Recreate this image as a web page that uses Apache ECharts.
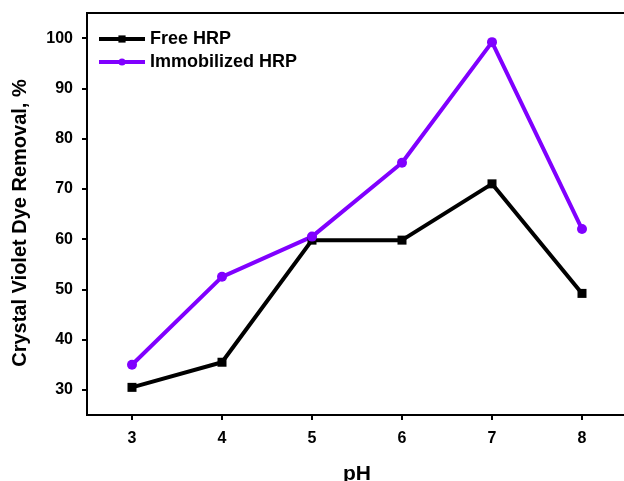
<!DOCTYPE html>
<html>
<head>
<meta charset="utf-8">
<script src="https://cdn.jsdelivr.net/npm/echarts@6/dist/echarts.min.js"></script>
<style>
html, body { margin: 0; padding: 0; background: #fff; }
#chart { width: 624px; height: 481px; }
</style>
</head>
<body>
<div id="chart"></div>
<script>
var phValues = [3, 4, 5, 6, 7, 8];
var freeHRP = [30.5, 35.5, 59.8, 59.8, 71.0, 49.2];
var immobilizedHRP = [35.0, 52.5, 60.5, 75.2, 99.2, 62.0];
var xTicks = [3, 4, 5, 6, 7, 8];
var yTicks = [30, 40, 50, 60, 70, 80, 90, 100];

function pairs(xs, ys) {
    var out = [];
    for (var i = 0; i < xs.length; i++) {
        out.push([xs[i], ys[i]]);
    }
    return out;
}

var myChart = echarts.init(document.getElementById('chart'));
var font = 'Liberation Sans, Arial, sans-serif';

var option = {
    backgroundColor: '#fff',
    animation: false,
    grid: {
        left: 87,
        top: 13,
        width: 540,
        bottom: 66,
        outerBoundsMode: 'none',
        containLabel: false,
        show: true,
        borderColor: '#000',
        borderWidth: 2,
        backgroundColor: 'transparent'
    },
    legend: {
        orient: 'vertical',
        left: 97,
        top: 30,
        padding: 0,
        itemWidth: 46,
        itemHeight: 9,
        itemGap: 5,
        lineStyle: { width: 4 },
        textStyle: {
            fontFamily: font,
            fontWeight: 'bold',
            fontSize: 18,
            color: '#000'
        },
        data: ['Free HRP', 'Immobilized HRP']
    },
    xAxis: {
        type: 'value',
        min: 2.5,
        max: 8.5,
        name: 'pH',
        nameLocation: 'middle',
        nameGap: 49,
        nameTextStyle: {
            fontFamily: font,
            fontWeight: 'bold',
            fontSize: 21,
            color: '#000'
        },
        axisLine: { show: true, lineStyle: { color: '#000', width: 2 } },
        axisTick: {
            show: true,
            length: 5,
            lineStyle: { color: '#000', width: 2 },
            customValues: xTicks
        },
        axisLabel: {
            fontFamily: font,
            fontWeight: 'bold',
            fontSize: 16,
            color: '#000',
            margin: 16,
            customValues: xTicks
        },
        splitLine: { show: false }
    },
    yAxis: {
        type: 'value',
        min: 25,
        max: 105,
        name: 'Crystal Violet Dye Removal, %',
        nameLocation: 'middle',
        nameGap: 57,
        nameTextStyle: {
            fontFamily: font,
            fontWeight: 'bold',
            fontSize: 20,
            color: '#000',
            padding: [0, 18, 0, 0]
        },
        axisLine: { show: true, lineStyle: { color: '#000', width: 2 } },
        axisTick: {
            show: true,
            length: 5,
            lineStyle: { color: '#000', width: 2 },
            customValues: yTicks
        },
        axisLabel: {
            fontFamily: font,
            fontWeight: 'bold',
            fontSize: 16,
            color: '#000',
            margin: 14,
            customValues: yTicks
        },
        splitLine: { show: false }
    },
    series: [
        {
            name: 'Free HRP',
            type: 'line',
            data: pairs(phValues, freeHRP),
            symbol: 'rect',
            symbolSize: 9,
            color: '#000',
            lineStyle: { width: 4, color: '#000' },
            itemStyle: { color: '#000' }
        },
        {
            name: 'Immobilized HRP',
            type: 'line',
            data: pairs(phValues, immobilizedHRP),
            symbol: 'circle',
            symbolSize: 10,
            color: '#8000ff',
            lineStyle: { width: 4, color: '#8000ff' },
            itemStyle: { color: '#8000ff' }
        }
    ]
};

myChart.setOption(option);
</script>
</body>
</html>
